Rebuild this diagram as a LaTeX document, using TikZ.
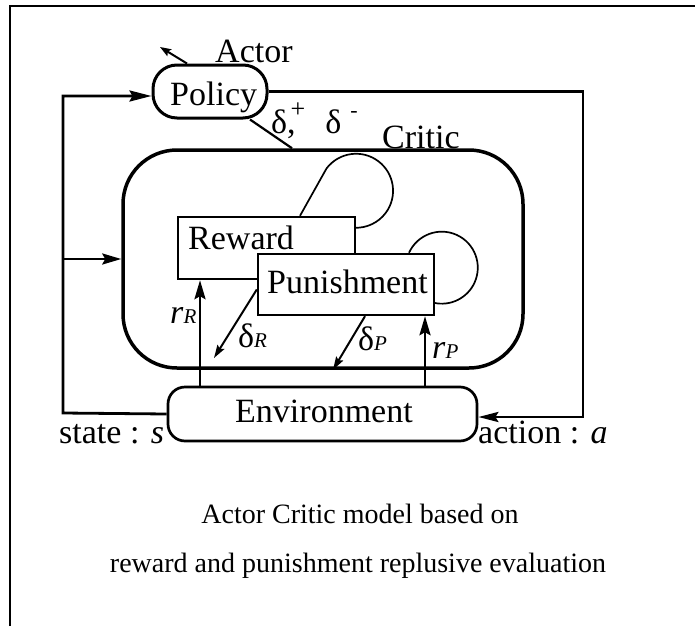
\documentclass[tikz,border=0pt]{standalone}
\usepackage{fontspec}
\setmainfont{Liberation Serif}
\usetikzlibrary{arrows.meta}

% small italic index letter used in r_R, r_P, delta_R, delta_P
\newcommand\idxletter[1]{{\fontsize{21}{21}\selectfont\itshape #1}}
\newcommand\supsign[3]{\raisebox{#1}{\fontsize{#2}{#2}\selectfont #3}}

\begin{document}
\begin{tikzpicture}[x=1pt,y=-1pt,
  lbl/.style={inner sep=0pt, anchor=base west, font=\fontsize{34}{40}\selectfont},
  captext/.style={inner sep=0pt, anchor=base, font=\fontsize{28}{34}\selectfont},
  roundbox/.style={draw, inner sep=0pt},
  plainbox/.style={draw, line width=2.4pt, inner sep=0pt, fill=white},
  bigarrow/.style={line width=2.6pt, -{Stealth[length=19pt,width=11pt,inset=3pt]}},
  smallarrow/.style={line width=2pt, -{Stealth[length=13pt,width=8pt,inset=2pt]}},
  loopline/.style={line width=1.7pt},
  wire/.style={line width=2.8pt}
]
\useasboundingbox (0,0) rectangle (695,626);
\fill[white] (0,0) rectangle (695,626);

% frame
\draw[line width=2pt] (10.3,626) -- (10.3,6.5) -- (695,6.5);

% boxes
\node[roundbox, line width=3.5pt, rounded corners=54pt,
      minimum width=400pt, minimum height=218pt] (critic) at (323,259) {};
\node[roundbox, line width=3pt, rounded corners=24pt,
      minimum width=114pt, minimum height=53pt] (policy) at (210,91.5) {};
\node[roundbox, line width=2.7pt, rounded corners=17pt, fill=white,
      minimum width=309pt, minimum height=54pt] (env) at (322.5,414) {};
\node[plainbox, minimum width=177pt, minimum height=62pt] (reward) at (266.5,248) {};
\node[plainbox, minimum width=176pt, minimum height=61pt] (pun) at (346,284.5) {};

% texts
\node[lbl] (actorlbl) at (215,63) {Actor};
\node[lbl] (policylbl) at (170,105) {Policy};
\node[lbl] (criticlbl) at (382,148) {Critic};
\node[lbl] (deltalbl) at (271,133)
  {δ,\hspace{-5pt}\supsign{16pt}{26}{+}\hspace{20pt}δ\hspace{9pt}\supsign{16pt}{22}{-}};
\node[lbl] (rewardlbl) at (188,249) {Reward};
\node[lbl] (punlbl) at (267,293) {Punishment};
\node[lbl] (envlbl) at (235,422) {Environment};
\node[lbl] (statelbl) at (59,443) {state : \textit{s}};
\node[lbl] (actionlbl) at (478,443) {action : \textit{a}};
\node[lbl] (rRlbl) at (170,323) {\textit{r}\idxletter{R}};
\node[lbl] (dRlbl) at (238,347) {δ\idxletter{R}};
\node[lbl] (dPlbl) at (358,350) {δ\idxletter{P}};
\node[lbl] (rPlbl) at (432,358) {\textit{r}\idxletter{P}};
\node[captext] (cap1) at (360,523) {Actor Critic model based on};
\node[captext] (cap2) at (358,572) {reward and punishment replusive evaluation};

% helper points
\coordinate (actortip) at (160,47);
\coordinate (lc) at (63,413);
\coordinate (rc) at (583,417);
\coordinate (rRx) at (200,0);
\coordinate (rPx) at (425,0);
\coordinate (dRtip) at (214,358);

% actor output
\draw[line width=2pt, -{Stealth[length=11pt,width=8pt,inset=2pt]}]
  ([xshift=-23pt]policy.north) -- (actortip);

% state feedback to policy and critic
\draw[wire, -{Stealth[length=22pt,width=11pt,inset=3pt]}]
  (env.west) -- (lc) |- ([yshift=-4.5pt]policy.west);
\draw[bigarrow] (lc |- critic.west) -- (critic.west);

% action from policy to environment
\draw[wire, -{Stealth[length=20pt,width=10pt,inset=3pt]}]
  (policy.east) -| (rc) -- ([yshift=-3pt]env.east);

% TD error from critic to policy
\draw[line width=2.2pt] ([xshift=40pt]policy.south) -- ([xshift=-31pt]critic.north);

% rewards from environment
\draw[bigarrow] (env.north -| rRx) -- (reward.south -| rRx);
\draw[bigarrow] (env.north -| rPx) -- (pun.south -| rPx);

% TD errors of the two evaluators
\draw[smallarrow] ([yshift=-5pt]pun.west) -- (dRtip);
\draw[smallarrow] ([xshift=19pt]pun.south) -- ([xshift=10pt]critic.south);

% recurrent loops
\draw[loopline] ([xshift=33.5pt]reward.north) -- ++(26.5,-47.3)
  arc[start angle=143, end angle=-92, radius=37pt];
\draw[loopline] ([xshift=63pt]pun.north)
  arc[start angle=155.6, end angle=-103, radius=36pt];
\end{tikzpicture}
\end{document}
